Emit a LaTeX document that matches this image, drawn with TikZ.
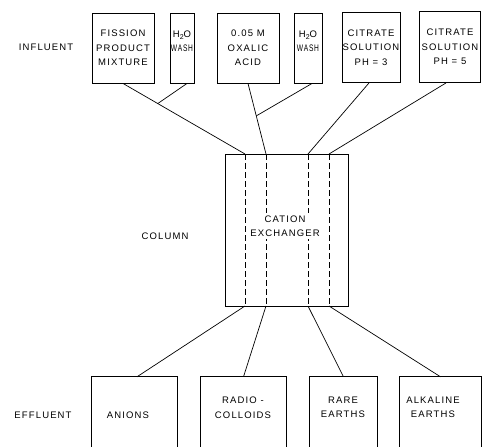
\documentclass[tikz,border=0pt]{standalone}
\usepackage{fontspec}
\setmainfont{Liberation Sans}[LetterSpace=12]
\usetikzlibrary{calc}
\begin{document}
\begin{tikzpicture}[x=1pt,y=-1pt,
  every node/.style={font=\fontsize{9.5}{14.5}\selectfont},
  box/.style={draw,line width=0.9pt,minimum height=70pt,inner sep=0pt},
  txt/.style={align=center,inner sep=1pt},
  btm/.style={minimum height=70pt,inner sep=0pt},
  link/.style={line width=0.7pt},
  dsh/.style={line width=0.8pt,dash pattern=on 6pt off 3pt}]
\useasboundingbox (0,0) rectangle (482,447);
% influent boxes
\node[box,minimum width=62pt] (f1) at (123,48) {};
\node[box,minimum width=24pt] (w1) at (182,48) {};
\node[box,minimum width=62pt] (ox) at (248,48) {};
\node[box,minimum width=28pt] (w2) at (308,48) {};
\node[box,minimum width=58pt] (c3) at (371,47.5) {};
\node[box,minimum width=61pt,minimum height=71pt] (c5) at (450,47) {};
\node[txt] (tf1) at (f1.center) {FISSION\\PRODUCT\\MIXTURE};
\node[txt] (tw1) at ([yshift=7pt]w1.center) {H\raisebox{-2.5pt}{\fontsize{7}{7}\selectfont 2}O\\\scalebox{0.7}[1]{WASH}};
\node[txt] (tox) at (ox.center) {0.05 M\\OXALIC\\ACID};
\node[txt] (tw2) at ([yshift=7pt]w2.center) {H\raisebox{-2.5pt}{\fontsize{7}{7}\selectfont 2}O\\\scalebox{0.7}[1]{WASH}};
\node[txt] (tc3) at (c3.center) {CITRATE\\SOLUTION\\PH = 3};
\node[txt] (tc5) at (c5.center) {CITRATE\\SOLUTION\\PH = 5};
\node[txt] (infl) at (46,47) {INFLUENT};
% column
\node[draw,line width=0.9pt,minimum width=123pt,minimum height=152pt,inner sep=0pt] (col) at (286.5,230) {};
\coordinate (ct1) at (245,154); \coordinate (cb1) at (245,306);
\coordinate (ct2) at (266,154); \coordinate (cb2) at (266,306);
\coordinate (ct3) at (308,154); \coordinate (cb3) at (308,306);
\coordinate (ct4) at (329,154); \coordinate (cb4) at (329,306);
\draw[dsh] (ct1) -- (cb1);
\draw[dsh] (ct2) -- (cb2);
\draw[dsh] (ct3) -- (cb3);
\draw[dsh] (ct4) -- (cb4);
\node[txt,fill=white,inner sep=2pt] (cx) at (285,226) {CATION\\EXCHANGER};
\node[txt] (colm) at (165,236) {COLUMN};
% influent connectors
\coordinate (j1) at ($(f1.south)!0.285!(ct1)$);
\coordinate (j2) at ($(ox.south)!0.46!(ct2)$);
\draw[link] (f1.south) -- (ct1);
\draw[link] ([xshift=5pt]w1.south) -- (j1);
\draw[link] (ox.south) -- (ct2);
\draw[link] ([xshift=4pt]w2.south) -- (j2);
\draw[link] ([xshift=-2pt]c3.south) -- (ct3);
\draw[link] ([xshift=-4pt]c5.south) -- (ct4);
% effluent boxes
\node[btm,minimum width=85pt] (an) at (134.5,412) {};
\node[btm,minimum width=85pt] (rc) at (243.5,412) {};
\node[btm,minimum width=67pt] (re) at (343.5,412) {};
\node[btm,minimum width=82pt] (ae) at (440.5,412) {};
\foreach \b in {an,rc,re,ae}
  \draw[line width=0.9pt] (\b.south west) -- (\b.north west) -- (\b.north east) -- (\b.south east);
\node[txt] (tan) at (128,415) {ANIONS};
\node[txt] (trc) at (243,407.5) {RADIO -\\COLLOIDS};
\node[txt] (tre) at (343,407.5) {RARE\\EARTHS};
\node[txt] (tae) at (433,407.5) {ALKALINE\\EARTHS};
\node[txt] (effl) at (43,415) {EFFLUENT};
% effluent connectors
\draw[link] (cb1) -- ([xshift=2.5pt]an.north);
\draw[link] (cb2) -- (rc.north);
\draw[link] (cb3) -- (re.north);
\draw[link] (cb4) -- (ae.north);
\end{tikzpicture}
\end{document}
